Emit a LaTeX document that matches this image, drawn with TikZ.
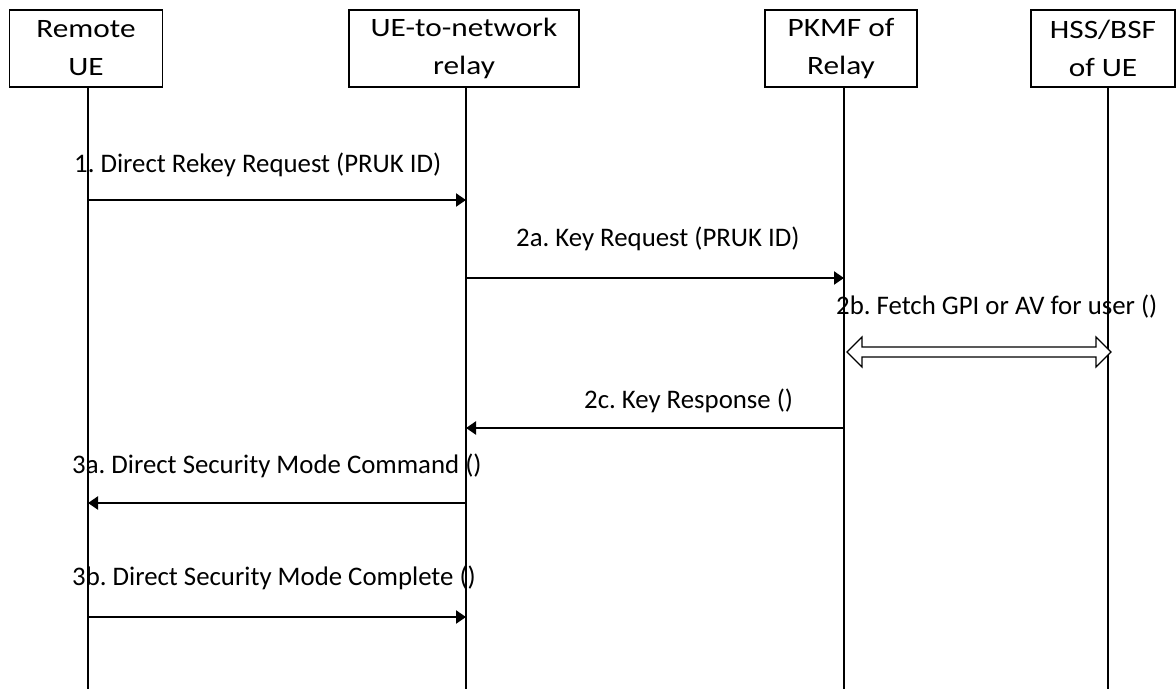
\documentclass[tikz,border=0pt]{standalone}
\usepackage{fontspec}
\setmainfont{Carlito}
\usepackage{graphicx}
\usetikzlibrary{arrows.meta,calc}
\frenchspacing
\newcommand{\wide}[1]{\scalebox{1.18}[1]{#1}}
\begin{document}
\begin{tikzpicture}[x=1pt,y=-1pt,
  actor/.style={draw,line width=1.8pt,inner sep=0pt,minimum height=77pt,align=center,
    font=\fontsize{26.5}{38}\selectfont},
  life/.style={line width=1.6pt},
  msg/.style={line width=2.2pt,-{Triangle[length=10pt,width=13pt]}},
  dbl/.style={draw,line width=1.1pt,line join=miter,fill=white},
  lbl/.style={anchor=base west,inner sep=0pt,font=\fontsize{26.8}{32}\selectfont}]
\useasboundingbox (0,0) rectangle (1176,689);
% actors
\node[actor,minimum width=153pt] (ru) at (86,48.5) {\wide{Remote}\\\wide{UE}};
\node[actor,minimum width=230pt] (rl) at (464,48.5) {\wide{UE-to-network}\\\wide{relay}};
\node[actor,minimum width=152pt] (pk) at (841,48.5) {\wide{PKMF of}\\\wide{Relay}};
\node[actor,minimum width=144pt] (hs) at (1103,48.5) {\wide{HSS/BSF}\\\wide{of UE}};
% lifelines
\coordinate (ruT) at (88,87); \coordinate (ruB) at (88,689);
\coordinate (rlT) at (466,87); \coordinate (rlB) at (466,689);
\coordinate (pkT) at (844,87); \coordinate (pkB) at (844,689);
\coordinate (hsT) at (1108,87); \coordinate (hsB) at (1108,689);
\draw[life] (ruT) -- (ruB);
\draw[life] (rlT) -- (rlB);
\draw[life] (pkT) -- (pkB);
\draw[life] (hsT) -- (hsB);
% message end points
\coordinate (m1a) at (88,200);  \coordinate (m1b) at (466,200);
\coordinate (m2a) at (466,278); \coordinate (m2b) at (844,278);
\coordinate (m2c) at (847,352); \coordinate (m2d) at (1111,352);
\coordinate (m3a) at (844,428); \coordinate (m3b) at (466,428);
\coordinate (m4a) at (466,503); \coordinate (m4b) at (88,503);
\coordinate (m5a) at (88,617);  \coordinate (m5b) at (466,617);
% messages
\draw[msg] (m1a) -- (m1b);
\node[lbl] (t1) at (74,172) {1. Direct Rekey Request (PRUK ID)};
\draw[msg] (m2a) -- (m2b);
\node[lbl] (t2) at (516,246) {2a. Key Request (PRUK ID)};
\draw[dbl] (m2c) -- ++(15,-15) -- ++(0,10) -- ($(m2d)+(-15,-5)$) -- ++(0,-10)
  -- (m2d) -- ++(-15,15) -- ++(0,-10) -- ($(m2c)+(15,5)$) -- ++(0,10) -- cycle;
\node[lbl] (t3) at (836,314) {2b. Fetch GPI or AV for user ()};
\draw[msg] (m3a) -- (m3b);
\node[lbl] (t4) at (584,408) {2c. Key Response ()};
\draw[msg] (m4a) -- (m4b);
\node[lbl] (t5) at (72,473) {3a. Direct Security Mode Command ()};
\draw[msg] (m5a) -- (m5b);
\node[lbl] (t6) at (72,585) {3b. Direct Security Mode Complete ()};
\end{tikzpicture}
\end{document}
